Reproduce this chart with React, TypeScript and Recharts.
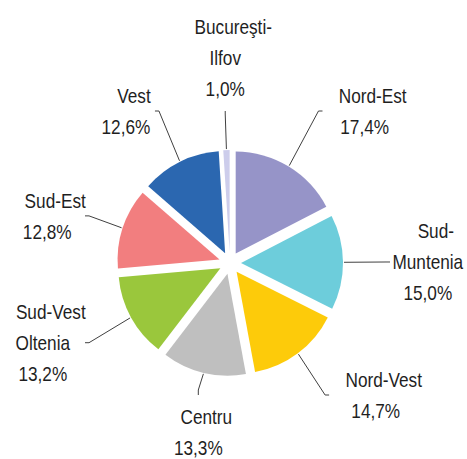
import { PieChart, Pie, Cell, Sector } from 'recharts';

const regions = ['Nord-Est', 'Sud-Muntenia', 'Nord-Vest', 'Centru', 'Sud-Vest Oltenia', 'Sud-Est', 'Vest', 'Bucureşti-Ilfov'];
const shares = [17.4, 15.0, 14.7, 13.3, 13.2, 12.8, 12.6, 1.0];
const colors = ['#9694C8', '#6DCDDB', '#FDCB0A', '#BFBFBF', '#9AC73C', '#F27E7F', '#2B67B0', '#CDCDEB'];

const data = regions.map((name, i) => ({ name, value: shares[i] }));

const W = 467;
const H = 459;
const RAD = Math.PI / 180;
const EXPLODE = 11; // slices pulled out from the centre
const LINE_H = 31;
const CHAR_W = 8.8; // rough width of one char in the narrowed font
const NARROW = 0.82; // no Arial Narrow here, squeeze Liberation Sans instead
const BOX = { left: 145, right: 160, top: 152, bottom: 132 }; // where leader lines end

const fmt = (v: number) => v.toFixed(1).replace('.', ',') + '%';

function wrapName(name: string): string[] {
  if (name.length <= 9) return [name];
  const sp = name.indexOf(' ');
  if (sp > 0) return [name.slice(0, sp), name.slice(sp + 1)];
  const h = name.indexOf('-');
  return [name.slice(0, h + 1), name.slice(h + 1)];
}

// draws the exploded slice, its leader line and the label text
const renderSlice = (p: any) => {
  const { cx, cy, midAngle, innerRadius, outerRadius, startAngle, endAngle, index } = p;
  const ux = Math.cos(-midAngle * RAD);
  const uy = Math.sin(-midAngle * RAD);

  const r0 = outerRadius + EXPLODE + 1;
  const x0 = cx + ux * r0;
  const y0 = cy + uy * r0;

  const hx = ux >= 0 ? BOX.right : BOX.left;
  const hy = uy >= 0 ? BOX.bottom : BOX.top;
  const t = Math.min(hx / Math.max(Math.abs(ux), 1e-6), hy / Math.max(Math.abs(uy), 1e-6));
  const ax = cx + ux * t;
  const ay = cy + uy * t;

  const lines = [...wrapName(regions[index]), fmt(shares[index])];
  const n = lines.length;
  const side = Math.abs(ux) > 0.4;

  let path = '';
  let pos: { x: number; y: number }[] = [];
  if (side) {
    const dir = ux >= 0 ? 1 : -1;
    const w = Math.max(...lines.map((l) => l.length)) * CHAR_W;
    let bc = ax + dir * (7 + w / 2);
    bc = Math.min(Math.max(bc, w / 2 + 4), W - w / 2 - 4);
    path = `M${x0},${y0}L${ax - dir * 4},${ay}L${ax},${ay}`;
    pos = lines.map((_, i) => ({ x: bc + (i === 0 ? 8 : 0), y: ay + (i - (n - 1) / 2) * LINE_H + 7.5 }));
  } else if (uy > 0) {
    path = `M${x0},${y0}L${ax},${ay - 5}L${ax},${ay}`;
    pos = lines.map((_, i) => ({ x: ax + (i === 0 ? 8 : 0), y: ay + 29 + i * LINE_H }));
  } else {
    path = `M${x0},${y0}L${ax},${ay + 3}L${ax},${ay}`;
    pos = lines.map((_, i) => ({ x: ax + (i === 0 ? 8 : 0), y: ay - 15 - (n - 1 - i) * LINE_H }));
  }

  return (
    <g key={`slice-${index}`}>
      <Sector
        cx={cx + ux * EXPLODE}
        cy={cy + uy * EXPLODE}
        innerRadius={innerRadius}
        outerRadius={outerRadius}
        startAngle={startAngle}
        endAngle={endAngle}
        fill={colors[index]}
        stroke="none"
      />
      <path d={path} fill="none" stroke="#404040" strokeWidth={1} />
      {lines.map((l, i) => (
        <text
          key={i}
          x={0}
          y={0}
          transform={`translate(${pos[i].x},${pos[i].y}) scale(${NARROW},1)`}
          textAnchor="middle"
          fontFamily="'Liberation Sans', Arial, sans-serif"
          fontSize={21}
          fill="#1f1f1f"
        >
          {l}
        </text>
      ))}
    </g>
  );
};

export default function App() {
  return (
    <div style={{ position: 'absolute', left: 0, top: 0, background: '#fff' }}>
      <PieChart width={W} height={H} margin={{ top: 0, right: 0, bottom: 0, left: 0 }}>
        <Pie
          data={data}
          dataKey="value"
          nameKey="name"
          cx={230}
          cy={263}
          outerRadius={102}
          startAngle={90}
          endAngle={-270}
          label={renderSlice}
          labelLine={false}
          stroke="none"
          isAnimationActive={false}
        >
          {data.map((d) => (
            <Cell key={d.name} fill="none" stroke="none" />
          ))}
        </Pie>
      </PieChart>
    </div>
  );
}
